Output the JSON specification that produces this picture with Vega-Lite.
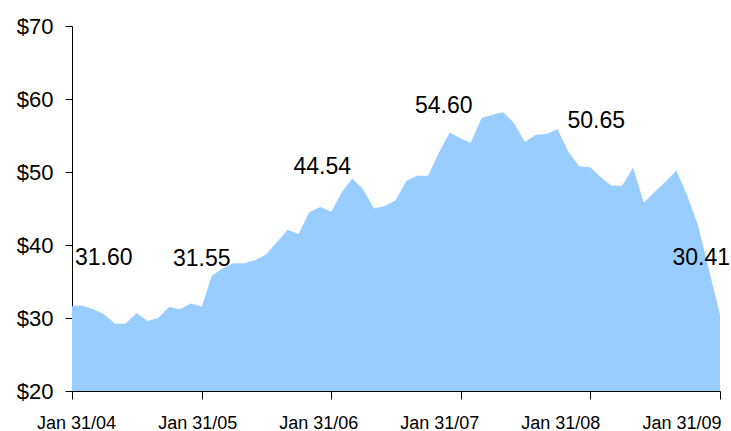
{
  "$schema": "https://vega.github.io/schema/vega-lite/v6.json",
  "width": 648,
  "height": 365,
  "autosize": {"type": "none"},
  "padding": {"left": 72, "top": 26, "right": 11, "bottom": 40},
  "background": "white",
  "config": {
    "view": {"stroke": null},
    "font": "Liberation Sans",
    "axis": {"grid": false, "domainColor": "black", "tickColor": "black", "labelColor": "black", "labelFont": "Liberation Sans", "domainWidth": 1, "tickWidth": 1, "zindex": 1}
  },
  "datasets": {
    "prices": [
      {"date": "2004-01-31", "price": 31.60},
      {"date": "2004-02-29", "price": 31.7},
      {"date": "2004-03-31", "price": 31.2},
      {"date": "2004-04-30", "price": 30.5},
      {"date": "2004-05-31", "price": 29.2},
      {"date": "2004-06-30", "price": 29.2},
      {"date": "2004-07-31", "price": 30.7},
      {"date": "2004-08-31", "price": 29.6},
      {"date": "2004-09-30", "price": 30.0},
      {"date": "2004-10-31", "price": 31.5},
      {"date": "2004-11-30", "price": 31.2},
      {"date": "2004-12-31", "price": 32.0},
      {"date": "2005-01-31", "price": 31.55},
      {"date": "2005-02-28", "price": 35.8},
      {"date": "2005-03-31", "price": 36.8},
      {"date": "2005-04-30", "price": 37.5},
      {"date": "2005-05-31", "price": 37.5},
      {"date": "2005-06-30", "price": 37.9},
      {"date": "2005-07-31", "price": 38.7},
      {"date": "2005-08-31", "price": 40.4},
      {"date": "2005-09-30", "price": 42.1},
      {"date": "2005-10-31", "price": 41.5},
      {"date": "2005-11-30", "price": 44.5},
      {"date": "2005-12-31", "price": 45.2},
      {"date": "2006-01-31", "price": 44.54},
      {"date": "2006-02-28", "price": 47.1},
      {"date": "2006-03-31", "price": 49.1},
      {"date": "2006-04-30", "price": 47.7},
      {"date": "2006-05-31", "price": 45.0},
      {"date": "2006-06-30", "price": 45.3},
      {"date": "2006-07-31", "price": 46.1},
      {"date": "2006-08-31", "price": 48.8},
      {"date": "2006-09-30", "price": 49.5},
      {"date": "2006-10-31", "price": 49.5},
      {"date": "2006-11-30", "price": 52.6},
      {"date": "2006-12-31", "price": 55.4},
      {"date": "2007-01-31", "price": 54.60},
      {"date": "2007-02-28", "price": 54.0},
      {"date": "2007-03-31", "price": 57.4},
      {"date": "2007-04-30", "price": 57.85},
      {"date": "2007-05-31", "price": 58.2},
      {"date": "2007-06-30", "price": 56.7},
      {"date": "2007-07-31", "price": 54.1},
      {"date": "2007-08-31", "price": 55.1},
      {"date": "2007-09-30", "price": 55.2},
      {"date": "2007-10-31", "price": 55.85},
      {"date": "2007-11-30", "price": 52.8},
      {"date": "2007-12-31", "price": 50.8},
      {"date": "2008-01-31", "price": 50.65},
      {"date": "2008-02-29", "price": 49.3},
      {"date": "2008-03-31", "price": 48.1},
      {"date": "2008-04-30", "price": 48.1},
      {"date": "2008-05-31", "price": 50.6},
      {"date": "2008-06-30", "price": 45.8},
      {"date": "2008-07-31", "price": 47.3},
      {"date": "2008-08-31", "price": 48.7},
      {"date": "2008-09-30", "price": 50.2},
      {"date": "2008-10-31", "price": 46.7},
      {"date": "2008-11-30", "price": 42.7},
      {"date": "2008-12-31", "price": 36.6},
      {"date": "2009-01-31", "price": 30.41}
    ],
    "yticks": [{"v": 20}, {"v": 30}, {"v": 40}, {"v": 50}, {"v": 60}, {"v": 70}]
  },
  "data": {"name": "prices"},
  "encoding": {
    "x": {
      "field": "date", "type": "temporal",
      "scale": {"type": "utc", "domain": [{"year": 2004, "month": 1, "date": 31, "utc": true}, {"year": 2009, "month": 1, "date": 31, "utc": true}]},
      "axis": {
        "title": null,
        "values": [
          {"year": 2004, "month": 1, "date": 31, "utc": true},
          {"year": 2005, "month": 1, "date": 31, "utc": true},
          {"year": 2006, "month": 1, "date": 31, "utc": true},
          {"year": 2007, "month": 1, "date": 31, "utc": true},
          {"year": 2008, "month": 1, "date": 31, "utc": true},
          {"year": 2009, "month": 1, "date": 31, "utc": true}
        ],
        "labelExpr": "utcFormat(datum.value, '%b %d/%y')",
        "labelFontSize": 18,
        "tickSize": 8,
        "labelPadding": 15,
        "labelFlush": false,
        "labelOverlap": false,
        "labelOffset": {"expr": "4 - 8.5 * (utcyear(datum.value) - 2004)"}
      }
    },
    "y": {
      "field": "price", "type": "quantitative",
      "scale": {"domain": [20, 70], "nice": false, "zero": false},
      "axis": {
        "title": null,
        "values": [20, 30, 40, 50, 60, 70],
        "labelExpr": "'$' + datum.value",
        "labelFontSize": 22,
        "tickSize": 7,
        "labelPadding": 12
      }
    }
  },
  "layer": [
    {
      "mark": {"type": "area", "color": "#99CCFF", "opacity": 1, "interpolate": "linear"},
      "encoding": {"y2": {"datum": 20}}
    },
    {
      "data": {"name": "yticks"},
      "mark": {"type": "tick", "orient": "horizontal", "color": "black", "size": 15, "thickness": 1},
      "encoding": {
        "x": {"datum": {"year": 2004, "month": 1, "date": 31, "utc": true}, "type": "temporal"},
        "y": {"field": "v", "type": "quantitative"}
      }
    },
    {
      "transform": [{"filter": "utcyear(datum.date) == 2004 && utcmonth(datum.date) == 0"}],
      "mark": {"type": "text", "align": "left", "baseline": "middle", "dx": 3, "dy": -48, "fontSize": 23, "color": "black"},
      "encoding": {"text": {"field": "price", "type": "quantitative", "format": ".2f"}}
    },
    {
      "transform": [{"filter": "utcyear(datum.date) == 2005 && utcmonth(datum.date) == 0"}],
      "mark": {"type": "text", "align": "center", "baseline": "middle", "dx": 0, "dy": -48, "fontSize": 23, "color": "black"},
      "encoding": {"text": {"field": "price", "type": "quantitative", "format": ".2f"}}
    },
    {
      "transform": [{"filter": "utcyear(datum.date) == 2006 && utcmonth(datum.date) == 0"}],
      "mark": {"type": "text", "align": "center", "baseline": "middle", "dx": -9, "dy": -45, "fontSize": 23, "color": "black"},
      "encoding": {"text": {"field": "price", "type": "quantitative", "format": ".2f"}}
    },
    {
      "transform": [{"filter": "utcyear(datum.date) == 2007 && utcmonth(datum.date) == 0"}],
      "mark": {"type": "text", "align": "center", "baseline": "middle", "dx": -17, "dy": -32, "fontSize": 23, "color": "black"},
      "encoding": {"text": {"field": "price", "type": "quantitative", "format": ".2f"}}
    },
    {
      "transform": [{"filter": "utcyear(datum.date) == 2008 && utcmonth(datum.date) == 0"}],
      "mark": {"type": "text", "align": "center", "baseline": "middle", "dx": 6, "dy": -46, "fontSize": 23, "color": "black"},
      "encoding": {"text": {"field": "price", "type": "quantitative", "format": ".2f"}}
    },
    {
      "transform": [{"filter": "utcyear(datum.date) == 2009 && utcmonth(datum.date) == 0"}],
      "mark": {"type": "text", "align": "right", "baseline": "middle", "dx": 10, "dy": -57, "fontSize": 23, "color": "black"},
      "encoding": {"text": {"field": "price", "type": "quantitative", "format": ".2f"}}
    }
  ]
}
